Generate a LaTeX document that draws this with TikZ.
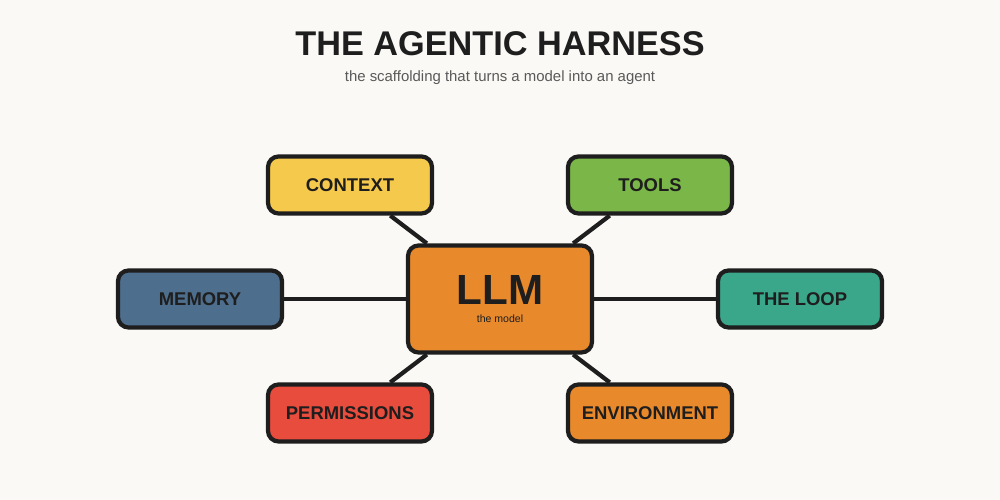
\documentclass[tikz,border=0pt]{standalone}
\usepackage{fontspec}
\setmainfont{Liberation Sans}
\usetikzlibrary{positioning}
\definecolor{bgcol}{HTML}{FAF9F5}
\definecolor{edgecol}{HTML}{1E1E1E}
\definecolor{ctxcol}{HTML}{F5C94B}
\definecolor{toolcol}{HTML}{7AB648}
\definecolor{memcol}{HTML}{4E6E8E}
\definecolor{loopcol}{HTML}{3AA68A}
\definecolor{permcol}{HTML}{E84C3D}
\definecolor{envcol}{HTML}{E8892B}
\begin{document}
\begin{tikzpicture}[
  part/.style={rectangle, draw=edgecol, rounded corners=6pt, line width=2.4pt,
               minimum width=3.28cm, minimum height=1.14cm,
               font=\fontsize{10.5}{12}\selectfont\bfseries, text=edgecol},
  link/.style={draw=edgecol, line width=2.4pt},
]
  \fill[bgcol] (0,0) rectangle (20,10);
  \node[font=\fontsize{19.5}{22}\selectfont\bfseries, text=edgecol] (title) at (10,9.12) {THE AGENTIC HARNESS};
  \node[font=\fontsize{8.5}{10}\selectfont, text=black!65] (sub) at (10,8.45) {the scaffolding that turns a model into an agent};
  % centre
  \node[part, fill=envcol, minimum width=3.68cm, minimum height=2.14cm, align=center] (llm) at (10,4.02)
    {\fontsize{24}{25}\selectfont\bfseries LLM\\[-1.5pt]\fontsize{6}{7}\selectfont\mdseries the model};
  % surrounding parts
  \node[part, fill=ctxcol] (context) at (7,6.3) {CONTEXT};
  \node[part, fill=toolcol] (tools) at (13,6.3) {TOOLS};
  \node[part, fill=memcol] (memory) at (4,4.02) {MEMORY};
  \node[part, fill=loopcol] (loop) at (16,4.02) {THE LOOP};
  \node[part, fill=permcol] (perms) at (7,1.74) {PERMISSIONS};
  \node[part, fill=envcol] (env) at (13,1.74) {ENVIRONMENT};
  \foreach \n in {context,tools,memory,loop,perms,env}
    \draw[link] (llm) -- (\n);
\end{tikzpicture}
\end{document}
